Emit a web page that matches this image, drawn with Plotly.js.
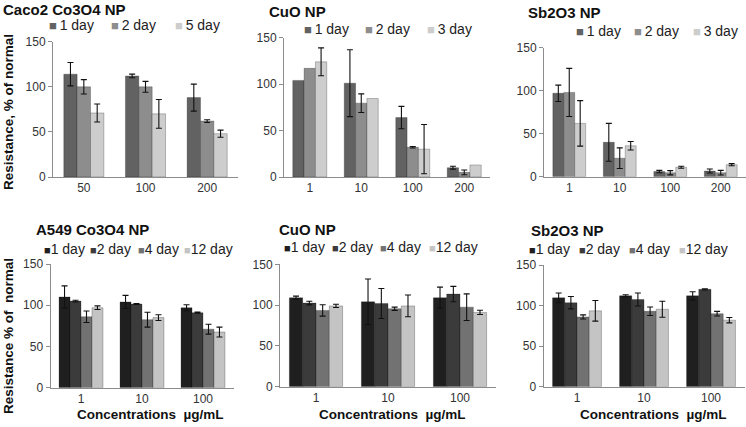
<!DOCTYPE html>
<html><head><meta charset="utf-8">
<script src="https://cdn.plot.ly/plotly-3.0.1.min.js"></script>
<style>html,body{margin:0;padding:0;background:#fff}#chart{width:746px;height:427px}</style>
</head><body><div id="chart"></div>
<script>
// ---------- categories (concentrations, µg/mL) ----------
const concCaco = ['50', '100', '200'];
const concTop = ['1', '10', '100', '200'];
const concBottom = ['1', '10', '100'];

// ---------- series names ----------
const daysCaco = ['1 day', '2 day', '5 day'];
const daysTop = ['1 day', '2 day', '3 day'];
const daysBottom = ['1 day', '2 day', '4 day', '12 day'];

// ---------- Caco2 Co3O4 NP ----------
const cacoCo_d1 = [114, 112, 88];   const cacoCo_d1_err = [13, 2, 15];
const cacoCo_d2 = [100, 100, 62];   const cacoCo_d2_err = [8, 6, 1.5];
const cacoCo_d5 = [71, 70, 48];     const cacoCo_d5_err = [10, 16, 4];

// ---------- Caco2 CuO NP ----------
const cacoCu_d1 = [104, 101, 64, 10];   const cacoCu_d1_err = [null, 36, 12, 1.5];
const cacoCu_d2 = [117, 79.5, 32, 5];   const cacoCu_d2_err = [null, 10, 0.8, 2.5];
const cacoCu_d3 = [124, 84.5, 30, 13];  const cacoCu_d3_err = [15, null, 26.5, null];

// ---------- Caco2 Sb2O3 NP ----------
const cacoSb_d1 = [97, 40, 6, 6.6];     const cacoSb_d1_err = [9.5, 22, 1.4, 2.3];
const cacoSb_d2 = [98, 21.5, 4.6, 4.6]; const cacoSb_d2_err = [28, 12, 2.5, 2.7];
const cacoSb_d3 = [62, 36, 11, 14];     const cacoSb_d3_err = [26.5, 5, 1.2, 1.2];

// ---------- A549 Co3O4 NP ----------
const a549Co_d1 = [110, 104, 97];     const a549Co_d1_err = [13.5, 8, 3.6];
const a549Co_d2 = [105, 101.5, 91];   const a549Co_d2_err = [1, 0.6, 0.6];
const a549Co_d4 = [86, 82.5, 71];     const a549Co_d4_err = [7, 9, 6];
const a549Co_d12 = [97, 85, 67.5];    const a549Co_d12_err = [2.2, 3.5, 6];

// ---------- A549 CuO NP ----------
const a549Cu_d1 = [109, 104, 109];      const a549Cu_d1_err = [2, 28, 13];
const a549Cu_d2 = [102.5, 102, 113.5];  const a549Cu_d2_err = [2.2, 18.4, 9.4];
const a549Cu_d4 = [93.5, 95.5, 97.5];   const a549Cu_d4_err = [7, 2, 16.3];
const a549Cu_d12 = [99, 99, 91];        const a549Cu_d12_err = [2, 13.3, 2.6];

// ---------- A549 Sb2O3 NP ----------
const a549Sb_d1 = [109.5, 112, 112];    const a549Sb_d1_err = [6, 1.4, 5];
const a549Sb_d2 = [103.5, 107.5, 120];  const a549Sb_d2_err = [7.6, 8, 0.8];
const a549Sb_d4 = [86, 93, 90];         const a549Sb_d4_err = [2.5, 5.3, 2.9];
const a549Sb_d12 = [93.5, 95.5, 82];    const a549Sb_d12_err = [12.7, 9.9, 3.3];

// ---------- titles ----------
const panelTitles = ['Caco2 Co3O4 NP', 'CuO NP', 'Sb2O3 NP', 'A549 Co3O4 NP', 'CuO NP', 'Sb2O3 NP'];
const yTitleTop = 'Resistance, % of normal';
const yTitleBottom = 'Resistance % of  normal';
const xTitleBottom = 'Concentrations  µg/mL';
const yTicks = [0, 50, 100, 150];

// ---------- styling / layout (pixels) ----------
const W = 746, H = 427;
const px = v => v / W, py = v => 1 - v / H;
const colorsTop = ['#626262', '#8d8d8d', '#cdcdcd'];
const colorsBottom = ['#1f1f1f', '#3b3b3b', '#727272', '#c4c4c4'];

const panels = [
  {cats: concCaco, names: daysCaco, vals: [cacoCo_d1, cacoCo_d2, cacoCo_d5], errs: [cacoCo_d1_err, cacoCo_d2_err, cacoCo_d5_err],
   colors: colorsTop, x0: 53, x1: 238, y0: 177, y1: 41.7, gap: 0.35,
   title: [2, 9], leg: {y: 25, xs: [48, 110, 174], sq: 13, sp: '\u2009'}},
  {cats: concTop, names: daysTop, vals: [cacoCu_d1, cacoCu_d2, cacoCu_d3], errs: [cacoCu_d1_err, cacoCu_d2_err, cacoCu_d3_err],
   colors: colorsTop, x0: 284, x1: 490, y0: 177, y1: 37.7, gap: 0.34,
   title: [268, 11], leg: {y: 29, xs: [303, 364, 426], sq: 13, sp: '\u2009'}},
  {cats: concTop, names: daysTop, vals: [cacoSb_d1, cacoSb_d2, cacoSb_d3], errs: [cacoSb_d1_err, cacoSb_d2_err, cacoSb_d3_err],
   colors: colorsTop, x0: 544, x1: 746, y0: 176.7, y1: 47.7, gap: 0.35,
   title: [527, 12], leg: {y: 31, xs: [575, 633, 692], sq: 13, sp: '\u2009'}},
  {cats: concBottom, names: daysBottom, vals: [a549Co_d1, a549Co_d2, a549Co_d4, a549Co_d12], errs: [a549Co_d1_err, a549Co_d2_err, a549Co_d4_err, a549Co_d12_err],
   colors: colorsBottom, x0: 50.5, x1: 233.5, y0: 387.7, y1: 264, gap: 0.28,
   title: [35, 229], leg: {y: 249, xs: [43, 89, 137, 183], sq: 11, sp: ''}, xt: 150},
  {cats: concBottom, names: daysBottom, vals: [a549Cu_d1, a549Cu_d2, a549Cu_d4, a549Cu_d12], errs: [a549Cu_d1_err, a549Cu_d2_err, a549Cu_d4_err, a549Cu_d12_err],
   colors: colorsBottom, x0: 280, x1: 496, y0: 386.7, y1: 264.3, gap: 0.26,
   title: [278, 229], leg: {y: 247, xs: [283, 331, 379, 428], sq: 11, sp: ''}, xt: 392},
  {cats: concBottom, names: daysBottom, vals: [a549Sb_d1, a549Sb_d2, a549Sb_d4, a549Sb_d12], errs: [a549Sb_d1_err, a549Sb_d2_err, a549Sb_d4_err, a549Sb_d12_err],
   colors: colorsBottom, x0: 543.5, x1: 744.5, y0: 386.7, y1: 265, gap: 0.27,
   title: [530, 230], leg: {y: 249, xs: [528, 578, 628, 678], sq: 11, sp: ''}, xt: 653}
];

const FONT = 'Liberation Sans, Arial, sans-serif';
const traces = [];
const layout = {
  width: W, height: H, margin: {l: 0, r: 0, t: 0, b: 0},
  paper_bgcolor: '#fff', plot_bgcolor: 'rgba(0,0,0,0)',
  barmode: 'group', showlegend: false,
  font: {family: FONT, size: 12, color: '#333'},
  annotations: []
};

panels.forEach((p, k) => {
  const id = k === 0 ? '' : String(k + 1);
  const n = p.vals.length;
  const bw = (1 - p.gap) / n;
  p.vals.forEach((v, i) => {
    traces.push({
      type: 'bar', x: p.cats, y: v, name: p.names[i],
      xaxis: 'x' + id, yaxis: 'y' + id,
      width: bw, offset: -(1 - p.gap) / 2 + i * bw,
      marker: {color: p.colors[i], line: {color: 'rgba(0,0,0,0.35)', width: 0.7}},
      error_y: {type: 'data', array: p.errs[i].map(e => e === null ? NaN : e), visible: true,
                color: '#111', thickness: 1.1, width: 3},
      showlegend: false, hoverinfo: 'x+y+name'
    });
  });
  layout['xaxis' + id] = {
    domain: [px(p.x0), px(p.x1)], anchor: 'y' + id, type: 'category',
    range: [-0.5, p.cats.length - 0.5], showline: true, linecolor: '#8c8c8c', linewidth: 1,
    ticks: '', showgrid: false, zeroline: false, tickfont: {size: 12, color: '#333'}, fixedrange: true
  };
  layout['yaxis' + id] = {
    domain: [py(p.y0), py(p.y1)], anchor: 'x' + id, range: [0, 150], tickvals: yTicks,
    showline: true, linecolor: '#8c8c8c', linewidth: 1, ticks: 'outside', ticklen: 4, tickcolor: '#8c8c8c',
    showgrid: false, zeroline: false, tickfont: {size: 12, color: '#333'}, fixedrange: true
  };
  // panel title
  layout.annotations.push({xref: 'paper', yref: 'paper', x: px(p.title[0]), y: py(p.title[1]),
    xanchor: 'left', yanchor: 'middle', showarrow: false, borderpad: 0, text: '<b>' + panelTitles[k] + '</b>',
    font: {family: FONT, size: 15, color: '#111'}});
  // legend entries
  p.names.forEach((nm, i) => {
    layout.annotations.push({xref: 'paper', yref: 'paper', x: px(p.leg.xs[i]), y: py(p.leg.y),
      xanchor: 'left', yanchor: 'middle', showarrow: false, borderpad: 0,
      text: '<span style="color:' + p.colors[i] + ';font-size:' + p.leg.sq + 'px">■</span>' + p.leg.sp + nm,
      font: {family: FONT, size: 14, color: '#222'}});
  });
  if (p.xt) {
    layout.annotations.push({xref: 'paper', yref: 'paper', x: px(p.xt), y: py(414),
      xanchor: 'center', yanchor: 'middle', showarrow: false, text: '<b>' + xTitleBottom + '</b>',
      font: {family: FONT, size: 13.5, color: '#111'}});
  }
});

layout.annotations.push({xref: 'paper', yref: 'paper', x: px(8), y: py(112), textangle: -90,
  xanchor: 'center', yanchor: 'middle', showarrow: false, text: '<b>' + yTitleTop + '</b>',
  font: {family: FONT, size: 13.5, color: '#111'}});
layout.annotations.push({xref: 'paper', yref: 'paper', x: px(8), y: py(336), textangle: -90,
  xanchor: 'center', yanchor: 'middle', showarrow: false, text: '<b>' + yTitleBottom + '</b>',
  font: {family: FONT, size: 13.5, color: '#111'}});

Plotly.newPlot('chart', traces, layout, {displayModeBar: false, staticPlot: true});
</script>
</body></html>
